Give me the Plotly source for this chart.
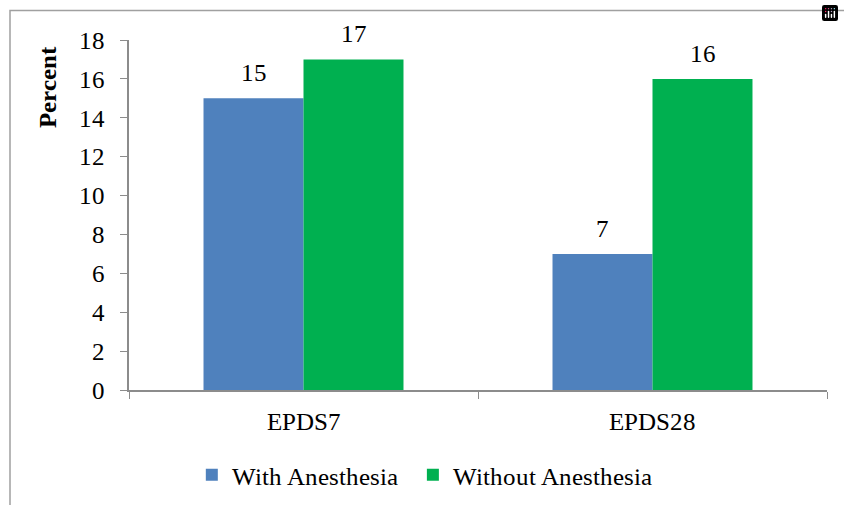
import plotly.graph_objects as go

categories = ["EPDS7", "EPDS28"]
with_anesthesia = [15, 7]
without_anesthesia = [17, 16]
y_ticks = [0, 2, 4, 6, 8, 10, 12, 14, 16, 18]

FONT = "RefSerif, Times New Roman, Liberation Serif, serif"
AXIS_GRAY = "#8c8c8c"
FS = 25

fig = go.Figure()
fig.add_trace(go.Bar(
    x=categories, y=with_anesthesia, name="With Anesthesia\u00a0\u00a0",
    marker=dict(color="#4F81BD", line=dict(width=0)),
))
fig.add_trace(go.Bar(
    x=categories, y=without_anesthesia, name="Without Anesthesia",
    marker=dict(color="#00B050", line=dict(width=0)),
))

annotations = []
for series, xshift in ((with_anesthesia, -50), (without_anesthesia, 50)):
    for cat, val in zip(categories, series):
        annotations.append(dict(x=cat, y=val, xref="x", yref="y", text=str(val),
                                showarrow=False, xshift=xshift, yshift=10,
                                xanchor="center", yanchor="bottom",
                                font=dict(family=FONT, size=FS, color="black")))
annotations.append(dict(text="<b>Percent</b>", xref="paper", yref="paper",
                        x=(48 - 129) / 698, y=(390 - 87) / 350, xanchor="center", yanchor="middle",
                        textangle=-90, showarrow=False,
                        font=dict(family=FONT, size=FS, color="black")))

fig.update_layout(
    width=844, height=505,
    margin=dict(l=129, r=17, t=40, b=115, autoexpand=False),
    paper_bgcolor="white", plot_bgcolor="white",
    barmode="group", bargap=0.427, bargroupgap=0,
    font=dict(family=FONT, size=FS, color="black"),
    showlegend=True,
    legend=dict(orientation="h", x=0.09, xanchor="left", y=-0.243, yanchor="middle",
                font=dict(family=FONT, size=FS, color="black"),
                traceorder="normal"),
    modebar=dict(bgcolor="rgba(0,0,0,0)", color="rgba(0,0,0,0)", activecolor="rgba(0,0,0,0)"),
    xaxis=dict(showline=True, linecolor=AXIS_GRAY, linewidth=1.5,
               ticks="outside", tickson="boundaries", ticklen=7, tickcolor=AXIS_GRAY,
               ticklabelstandoff=8,
               tickfont=dict(family=FONT, size=FS, color="black"),
               showgrid=False, zeroline=False, automargin=False),
    yaxis=dict(range=[0, 18], tickvals=y_ticks, showline=True, linecolor=AXIS_GRAY, linewidth=1.5,
               ticks="outside", ticklen=7, tickcolor=AXIS_GRAY, ticklabelstandoff=10,
               tickfont=dict(family=FONT, size=FS, color="black"),
               showgrid=False, zeroline=False, automargin=False),
    annotations=annotations,
    shapes=[dict(type="rect", xref="paper", yref="paper",
                 x0=(10 - 129) / 698, x1=1.2, y0=-0.6, y1=(390 - 10.5) / 350,
                 line=dict(color="#a0a0a0", width=1.5), fillcolor="rgba(0,0,0,0)", layer="below")],
)

post_js = (
    "document.body.style.margin='0';"
    "var s=document.createElement('style');"
    "s.textContent=\"@font-face{font-family:'RefSerif';font-weight:400;font-style:normal;"
    "src:local('Liberation Serif'),local('LiberationSerif'),local('Times New Roman'),local('Tinos');}"
    "@font-face{font-family:'RefSerif';font-weight:700;font-style:normal;"
    "src:local('Liberation Serif Bold'),local('LiberationSerif-Bold'),local('Times New Roman Bold');}\";"
    "document.head.appendChild(s);"
)

fig.write_html("out.html", post_script=post_js)
